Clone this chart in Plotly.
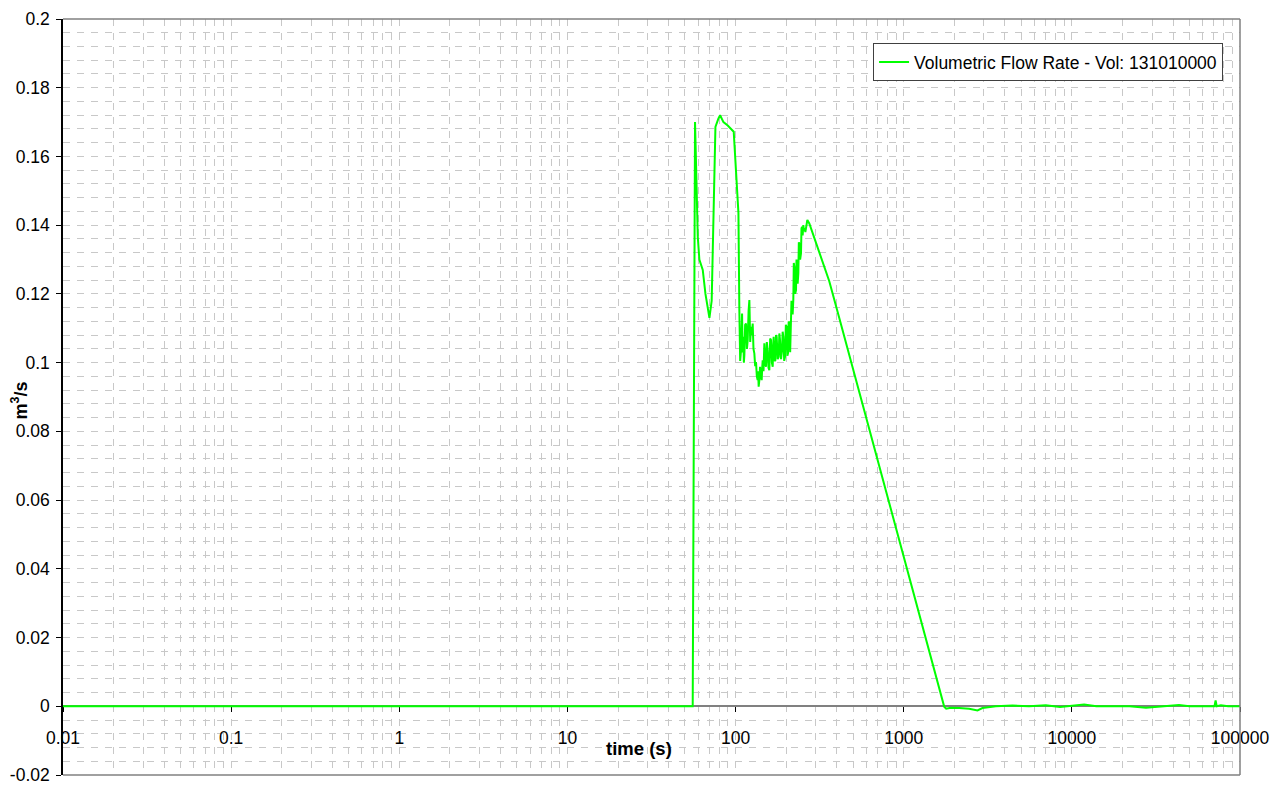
import plotly.graph_objects as go

# caudal volumetrico (m3/s) vs tiempo (s)
t_base = [0.01, 55.6]
q_base = [0.0, 0.0]

t_peak = [57.4, 59.6, 60.9, 63.8, 66.2, 69.9, 72.1, 74.1, 75.9, 79.1, 80.9,
          84.7, 89.8, 97.5, 99.5, 101.5, 104.0]
q_peak = [0.170, 0.1366, 0.130, 0.127, 0.120, 0.113, 0.118, 0.147, 0.1686, 0.1711, 0.172,
          0.170, 0.169, 0.1672, 0.160, 0.150, 0.1435]

t_noisy = [105.3, 106.5, 107.8, 108.5, 109.3, 110.2, 111.3, 112.0, 112.8, 114.0,
           115.4, 116.8, 118.1, 119.5, 120.8, 122.2, 123.6, 125.0, 126.4, 127.8,
           129.3, 130.8, 132.3, 133.8, 135.3, 136.2, 137.2, 138.5, 139.8, 141.4,
           143.0, 144.0, 145.0, 146.6, 148.3, 150.0, 151.7, 153.4, 155.2, 157.0,
           158.8, 160.6, 162.5, 164.4, 166.3, 167.4, 168.5, 170.4, 172.4, 174.0,
           175.6, 178.0, 180.4, 182.1, 183.8, 186.3, 188.9, 190.6, 192.4, 194.6,
           196.8, 199.1, 201.4, 203.2, 205.0, 206.9, 208.8, 211.2, 213.6, 215.0,
           216.5, 218.5, 220.5, 222.0, 223.6, 226.2, 228.8, 230.3, 231.9, 234.0,
           236.2, 237.8, 239.4, 242.1, 244.9, 246.6, 248.3, 250.6, 252.9, 255.2,
           257.6, 260.0, 262.3, 264.7, 267.2, 274.5, 287.3, 300.7]
q_noisy = [0.1153, 0.1005, 0.1036, 0.1120, 0.1143, 0.1030, 0.1075, 0.1000, 0.1022, 0.1110,
           0.1114, 0.1040, 0.1066, 0.1150, 0.1182, 0.1060, 0.1104, 0.1080, 0.1114, 0.1040,
           0.1027, 0.0990, 0.1002, 0.0960, 0.0949, 0.0975, 0.0930, 0.0950, 0.0988, 0.0960,
           0.0949, 0.0985, 0.1007, 0.0975, 0.1056, 0.1000, 0.0988, 0.1060, 0.1036, 0.0985,
           0.0978, 0.1070, 0.1066, 0.1000, 0.0988, 0.1050, 0.1075, 0.1005, 0.1007, 0.1080,
           0.1075, 0.1010, 0.1017, 0.1085, 0.1066, 0.1010, 0.1036, 0.1090, 0.1075, 0.1005,
           0.1017, 0.1110, 0.1104, 0.1020, 0.1027, 0.1120, 0.1114, 0.1030, 0.1095, 0.1180,
           0.1163, 0.1140, 0.1182, 0.1290, 0.1279, 0.1200, 0.1211, 0.1300, 0.1289, 0.1230,
           0.1260, 0.1350, 0.1347, 0.1300, 0.1318, 0.1390, 0.1395, 0.1370, 0.1400, 0.1385,
           0.1391, 0.1380, 0.1395, 0.1405, 0.1415, 0.1405, 0.1376, 0.1350]

t_fall = [314.8, 360.8, 413.8, 474.6, 544.0, 623.7, 715.3, 820.2, 940.3, 1078.2,
          1236.3, 1379.0, 1497.5, 1581.3, 1648.0, 1705.2, 1740.6, 1789.0]
q_fall = [0.1320, 0.1237, 0.1130, 0.1022, 0.0914, 0.0806, 0.0699, 0.0591, 0.0483, 0.0376,
          0.0268, 0.0183, 0.0122, 0.0079, 0.0044, 0.0017, -0.0001, -0.0007]

t_tail = [1906.7, 2136.7, 2450.0, 2747.0, 2940.0, 3528.0, 4432.0, 5568.0, 7000.0, 8500.0,
          10000.0, 11830.0, 14000.0, 18000.0, 22000.0, 27600.0, 33000.0, 43350.0, 50000.0,
          60000.0, 70500.0, 71600.0, 72700.0, 77000.0, 85000.0, 100000.0]
q_tail = [-0.0004, -0.0005, -0.0007, -0.0012, -0.0005, 0.0, 0.0002, 0.0, 0.0003, -0.0002,
          0.0001, 0.0005, 0.0, 0.0001, 0.0, -0.0004, 0.0, 0.0004, 0.0,
          0.0001, 0.0, 0.0017, 0.0, 0.0003, 0.0, 0.0]

x_tickvals = [0.01, 0.1, 1, 10, 100, 1000, 10000, 100000]
x_ticktext = ['0.01', '0.1', '1', '10', '100', '1000', '10000', '100000']
y_tickvals = [-0.02, 0, 0.02, 0.04, 0.06, 0.08, 0.1, 0.12, 0.14, 0.16, 0.18, 0.2]
y_ticktext = ['-0.02', '0', '0.02', '0.04', '0.06', '0.08', '0.1', '0.12', '0.14', '0.16', '0.18', '0.2']

FONT = 'Arial, Liberation Sans, sans-serif'
GRID = '#C8C8C8'
DASH = '7px,7px'
BORDER = '#808080'

t_all = t_base + t_peak + t_noisy + t_fall + t_tail
q_all = q_base + q_peak + q_noisy + q_fall + q_tail

# subdivisiones logaritmicas 2..9 de cada decada
minor_x = [m * 10 ** e for e in range(-2, 5) for m in range(2, 10)]

fig = go.Figure()
fig.add_trace(go.Scatter(x=t_all, y=q_all, mode='lines',
                         name='Volumetric Flow Rate - Vol: 131010000',
                         line=dict(color='#00FF00', width=2)))

# la pagina tiene 8px de margen en el body: se compensa aqui
fig.update_layout(
    width=1277, height=777,
    margin=dict(l=55, r=45, t=11, b=10),
    plot_bgcolor='white', paper_bgcolor='white',
    font=dict(family=FONT, size=17.5, color='black'),
    showlegend=True,
    legend=dict(x=0.9856, xanchor='right', y=0.968, yanchor='top',
                bgcolor='white', bordercolor='#404040', borderwidth=1,
                font=dict(size=17.5)),
    xaxis=dict(type='log', range=[-2, 5], anchor='free', position=0.02 / 0.22,
               automargin=False, ticklabeloverflow='allow', ticklabelstandoff=11,
               showline=True, linecolor=BORDER, linewidth=2, layer='below traces',
               ticks='outside', tickcolor='black', ticklen=5,
               tickmode='array', tickvals=x_tickvals, ticktext=x_ticktext,
               showgrid=True, gridcolor=GRID, griddash=DASH, zeroline=False,
               minor=dict(tickmode='array', tickvals=minor_x, ticks='',
                          showgrid=True, gridcolor=GRID, griddash=DASH)),
    yaxis=dict(range=[-0.02, 0.2], automargin=False, ticklabeloverflow='allow',
               ticklabelstandoff=3,
               showline=True, linecolor='black', linewidth=1.5,
               ticks='outside', tickcolor='black', ticklen=5,
               tickmode='array', tickvals=y_tickvals, ticktext=y_ticktext,
               showgrid=True, gridcolor=GRID, griddash=DASH, zeroline=False,
               minor=dict(tickmode='linear', tick0=0, dtick=0.004, ticks='',
                          showgrid=True, gridcolor=GRID, griddash=DASH)),
)

# marco gris (arriba, derecha, abajo)
for x0, y0, x1, y1 in [(0, 1, 1, 1), (1, 0, 1, 1), (0, 0, 1, 0)]:
    fig.add_shape(type='line', xref='paper', yref='paper', x0=x0, y0=y0, x1=x1, y1=y1,
                  line=dict(color=BORDER, width=1.5))

fig.add_annotation(text='<b>time (s)</b>', xref='paper', yref='paper', x=0.489, y=0.0357,
                   xanchor='center', yanchor='middle', showarrow=False, font=dict(size=18.5))
fig.add_annotation(text='<b>m<sup>3</sup>/s</b>', xref='paper', yref='paper', x=-0.037, y=0.496,
                   xanchor='center', yanchor='middle', textangle=-90, showarrow=False,
                   font=dict(size=18))

fig.write_html('out.html')
